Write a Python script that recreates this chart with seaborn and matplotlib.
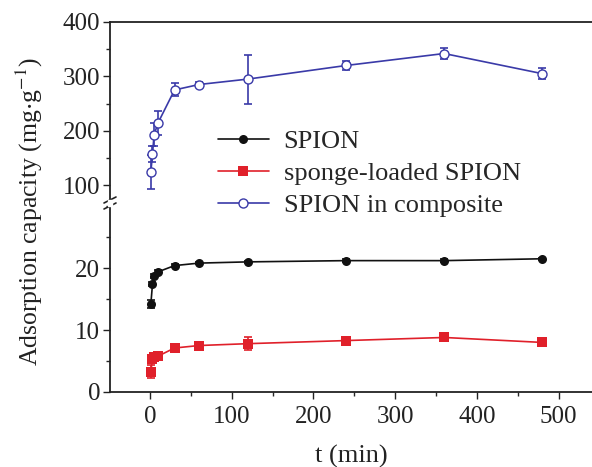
import numpy as np
import pandas as pd
import matplotlib
matplotlib.use("Agg")
import matplotlib.pyplot as plt
import seaborn as sns
from matplotlib.ticker import MultipleLocator

sns.set_theme(style="ticks")
plt.rcParams['font.family'] = ['Liberation Serif', 'DejaVu Serif']
plt.rcParams['mathtext.fontset'] = 'stix'

t_min = [1, 3, 5, 10, 30, 60, 120, 240, 360, 480]
spion = [14.2, 17.4, 18.7, 19.4, 20.4, 20.8, 21.0, 21.2, 21.2, 21.5]
spion_err = [0.6, 0.3, 0.3, 0.3, 0.2, 0.2, 0.2, 0.2, 0.2, 0.2]
sponge = [3.3, 5.4, 5.7, 5.8, 7.1, 7.5, 7.8, 8.3, 8.8, 8.0]
sponge_err = [1.0, 0.6, 0.5, 0.5, 0.3, 0.3, 1.0, 0.3, 0.4, 0.4]
composite = [124, 157, 193, 215, 275, 285, 295, 320, 342, 305]
composite_err = [32, 15, 22, 22, 12, 5, 45, 8, 10, 10]

labels = ["SPION", "sponge-loaded SPION", "SPION in composite"]
colors = {"SPION": "#111111", "sponge-loaded SPION": "#e0202a", "SPION in composite": "#3a3aa8"}

df = pd.DataFrame({
    "t": t_min * 3,
    "q": spion + sponge + composite,
    "err": spion_err + sponge_err + composite_err,
    "series": [labels[0]] * 10 + [labels[1]] * 10 + [labels[2]] * 10,
})

fig = plt.figure(figsize=(5.92, 4.67), dpi=100)
W, H = 592, 467
left, right = 110 / W, 1.0
brk = 203
ax_top = fig.add_axes([left, 1 - brk / H, right - left, (brk - 22) / H])
ax_bot = fig.add_axes([left, 1 - 392 / H, right - left, (392 - brk) / H])

low = df[df.series != labels[2]]
high = df[df.series == labels[2]]

sns.lineplot(data=low, x="t", y="q", hue="series", palette=colors, style="series",
             markers={labels[0]: "o", labels[1]: "s"}, dashes=False, markersize=6.5,
             linewidth=1.2, ax=ax_bot, legend=False, markeredgewidth=0)
sns.lineplot(data=high, x="t", y="q", hue="series", palette=colors, style="series",
             markers={labels[2]: "o"}, dashes=False, markersize=6.5, linewidth=1.2,
             ax=ax_top, legend=False, markerfacecolor="white",
             markeredgecolor=colors[labels[2]], markeredgewidth=1)

for name, ax in [(labels[0], ax_bot), (labels[1], ax_bot), (labels[2], ax_top)]:
    s = df[df.series == name]
    ax.errorbar(s.t, s.q, yerr=s.err, fmt="none", ecolor=colors[name],
                elinewidth=1.2, capsize=3, capthick=1.2, zorder=1)

for ax in (ax_top, ax_bot):
    ax.set_xlim(-49, 541)
    ax.spines["right"].set_visible(False)
    ax.tick_params(axis="both", which="major", direction="out", length=5, width=1,
                   labelsize=18, colors="#222222", pad=2)
    ax.tick_params(axis="both", which="minor", direction="out", length=3, width=1)
    for sp in ax.spines.values():
        sp.set_linewidth(1.3)
        sp.set_color("#222222")
    ax.set_xlabel("")
    ax.set_ylabel("")

ax_top.set_ylim(67, 400)
ax_top.set_yticks([100, 200, 300, 400])
ax_top.yaxis.set_minor_locator(MultipleLocator(50))
ax_top.spines["bottom"].set_visible(False)
ax_top.tick_params(axis="x", which="both", bottom=False, labelbottom=False)

ax_bot.set_ylim(0, 30.5)
ax_bot.set_yticks([0, 10, 20])
ax_bot.yaxis.set_minor_locator(MultipleLocator(5))
ax_bot.set_xticks([0, 100, 200, 300, 400, 500])
ax_bot.xaxis.set_minor_locator(MultipleLocator(50))
ax_bot.tick_params(axis="x", which="major", pad=5)
ax_bot.spines["top"].set_visible(False)
ax_bot.set_xlabel("t (min)", fontsize=19, color="#222222", labelpad=12)

# axis break marks
d = 6
for dy in (-3, 3):
    fig.lines.append(plt.Line2D([(110 - d) / W, (110 + d) / W],
                                [1 - (brk + dy + 3) / H, 1 - (brk + dy - 3) / H],
                                transform=fig.transFigure, color="#222222", lw=1.2))
fig.patches.append(plt.Rectangle(((110 - 2) / W, 1 - (brk + 3) / H), 4 / W, 6 / H,
                                 transform=fig.transFigure, color="white", zorder=5))

fig.text(0.05, 0.546, "Adsorption capacity (mg$\\cdot$g$^{-1}$)", rotation=90,
         fontsize=18.5, color="#222222", ha="center", va="center")

handles = [ax_bot.lines[0], ax_bot.lines[1], ax_top.lines[0]]
fig.legend(handles, labels, loc="upper left", bbox_to_anchor=(207 / W, 1 - 119 / H),
           frameon=False, fontsize=19, handlelength=1.95, handletextpad=0.55,
           labelspacing=0.33, borderaxespad=0)

fig.savefig("out.png", dpi=100)
